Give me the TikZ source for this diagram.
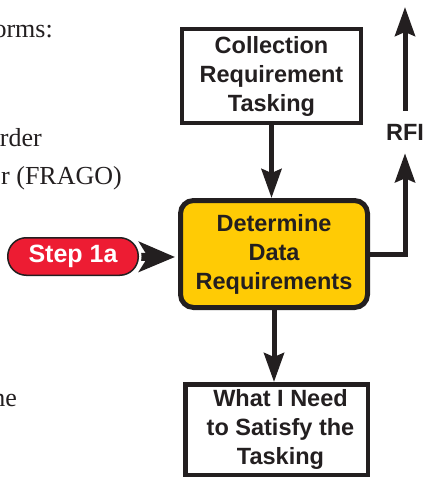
\documentclass[tikz,border=0pt]{standalone}
\usepackage{fontspec}
\setmainfont{Liberation Serif}
\newfontfamily\labelfont{Liberation Sans}
\usetikzlibrary{arrows.meta}
\definecolor{ink}{HTML}{231F20}
\definecolor{taskyellow}{HTML}{FFCB05}
\definecolor{stepred}{HTML}{ED1C33}
\pgfdeclarelayer{back}
\pgfsetlayers{back,main}

\begin{document}
\begin{tikzpicture}[x=1pt,y=-1pt,
  boxtext/.style={font=\labelfont\bfseries\fontsize{23.5pt}{29pt}\selectfont,
    text=ink, align=center},
  plainbox/.style={draw=ink, fill=white, line width=4.5pt, inner sep=0pt},
  arrowline/.style={draw=ink, line width=5pt,
    -{Stealth[length=29pt,width=20pt,inset=4pt]}},
  textfrag/.style={font=\fontsize{26pt}{32pt}\selectfont, text=ink,
    inner sep=0pt, anchor=base east}
]
\useasboundingbox (0,0) rectangle (427,478);

% running text beside the flow chart
\node[textfrag] (l1) at (53,38) {orms:};
\node[textfrag] (l2) at (42,147) {rder};
\node[textfrag] (l3) at (122,185) {r (FRAGO)};
\node[textfrag] (l4) at (17,406) {ne};

% flow chart boxes
\node[plainbox, minimum width=179pt, minimum height=94pt, boxtext]
  (task) at (271.5,76) {Collection\\Requirement\\Tasking};
\node[draw=ink, fill=taskyellow, line width=5pt, rounded corners=13pt,
  minimum width=187pt, minimum height=107pt, inner sep=0pt, boxtext]
  (det) at (274,254) {Determine\\Data\\Requirements};
\node[plainbox, minimum width=182.5pt, minimum height=90.5pt]
  (need) at (276.5,429.5) {};
\node[boxtext] (needtxt) at ([xshift=4pt]need.center)
  {What I Need\\to Satisfy the\\Tasking};

% request for information branch
\node[boxtext, inner xsep=0pt, inner ysep=13pt] (rfi) at (405,132) {RFI};
\coordinate (rfitop) at (405,7);

\draw[arrowline] (task.south) -- (task.south |- det.north);
\draw[arrowline] (det.south) -- (det.south |- need.north);
\draw[arrowline] (det.east) -| (rfi.south);
\draw[arrowline] (rfi.north) -- (rfitop);

% step marker
\node[draw=ink, fill=stepred, line width=1.5pt, rounded corners=18.5pt,
  minimum width=130.5pt, minimum height=37.5pt, inner sep=0pt, text=white,
  font=\labelfont\bfseries\fontsize{25pt}{30pt}\selectfont]
  (step) at (73,256.5) {Step 1a};
\coordinate (steptip) at (175,257);
\begin{pgfonlayer}{back}
  \draw[ink, line width=8pt, -{Stealth[length=36pt,width=30pt,inset=9pt]}]
    (step.center) -- (steptip);
  \draw[white, line width=5pt, rounded corners=19.5pt]
    (step.north west) rectangle (step.south east);
\end{pgfonlayer}
\end{tikzpicture}
\end{document}
